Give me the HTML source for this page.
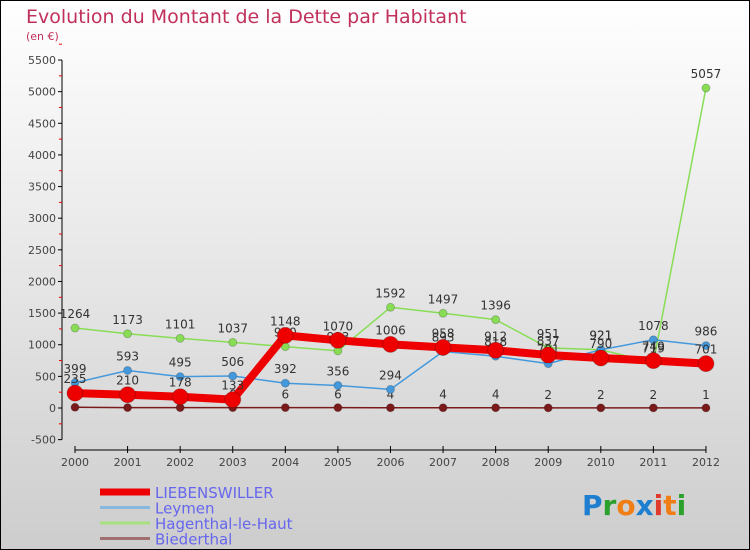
<!DOCTYPE html>
<html><head><meta charset="utf-8"><style>
body{margin:0}
#c{position:relative;width:750px;height:550px;overflow:hidden}
svg text{font-family:"DejaVu Sans","Liberation Sans",sans-serif}
</style></head><body>
<div id="c">
<svg id="s" width="750" height="550" xmlns="http://www.w3.org/2000/svg">
<defs><linearGradient id="bg" x1="0" y1="0" x2="0" y2="1"><stop offset="0" stop-color="#ffffff"/><stop offset="1" stop-color="#cdcdcd"/></linearGradient></defs>
<rect x="0.5" y="0.5" width="749" height="549" fill="url(#bg)" stroke="#000"/>
<text x="26" y="23" font-size="19" fill="#c0305a">Evolution du Montant de la Dette par Habitant</text>
<text x="26" y="40" font-size="11" fill="#c0305a">(en €)</text>
<g id="axes"></g>
<g id="series"></g>
<g id="legend"></g>
<text x="582" y="515" font-size="28" font-family="Liberation Sans,sans-serif" font-weight="bold"><tspan fill="#1e7fd0">P</tspan><tspan fill="#2ca02c">r</tspan><tspan fill="#f07e14">o</tspan><tspan fill="#1e7fd0">x</tspan><tspan fill="#e03a2c">i</tspan><tspan fill="#f07e14">t</tspan><tspan fill="#2ca02c">i</tspan></text>
</svg>
</div>
<script>
const years=["2000","2001","2002","2003","2004","2005","2006","2007","2008","2009","2010","2011","2012"];
const yTicks=[-500,0,500,1000,1500,2000,2500,3000,3500,4000,4500,5000,5500];
const liebenswiller=[235,210,178,133,1148,1070,1006,958,912,837,790,749,701];
const leymen=[399,593,495,506,392,356,294,893,818,701,921,1078,986];
const hagenthal=[1264,1173,1101,1037,970,903,1592,1497,1396,951,921,719,5057];
const biederthal=[11,6,6,6,6,6,4,4,4,2,2,2,1];
const seriesNames=["LIEBENSWILLER","Leymen","Hagenthal-le-Haut","Biederthal"];
const NS="http://www.w3.org/2000/svg";
const X=i=>75+i*52.58;
const Y=v=>408-v*0.06327;
function mk(tag,attrs,parent){const e=document.createElementNS(NS,tag);for(const k in attrs)e.setAttribute(k,attrs[k]);parent.appendChild(e);return e;}
const ax=document.getElementById('axes');
let l=mk('line',{x1:62,y1:Y(5500),x2:62,y2:Y(-500),stroke:'#000'},ax);


yTicks.forEach(v=>{
  mk('line',{x1:58,y1:Y(v),x2:62,y2:Y(v),stroke:'#000'},ax);
  mk('line',{x1:59,y1:Y(v+250),x2:62,y2:Y(v+250),stroke:'#e00'},ax);
  const t=mk('text',{x:56,y:Y(v)+4,'font-size':11,'text-anchor':'end',fill:'#444'},ax);
  t.textContent=v;
  
  
});
l=mk('line',{x1:X(0),y1:450,x2:X(12),y2:450,stroke:'#000'},ax);


years.forEach((y,i)=>{
  mk('line',{x1:X(i),y1:446,x2:X(i),y2:453,stroke:'#000'},ax);
  const t=mk('text',{x:X(i),y:466,'font-size':11,'text-anchor':'middle',fill:'#444'},ax);
  t.textContent=y;
  
  
});
const sg=document.getElementById('series');
function draw(vals,color,w,r,name,labelOffset){
  const g=mk('g',{},sg);
  
  
  mk('polyline',{points:vals.map((v,i)=>X(i)+','+Y(v)).join(' '),fill:'none',stroke:color,'stroke-width':w,'stroke-linejoin':'round'},g);
  vals.forEach((v,i)=>{
    const c=mk('circle',{cx:X(i),cy:Y(v),r:r,fill:color,stroke:'rgba(0,0,0,0.2)'},g);
    
    
    const t=mk('text',{x:X(i),y:Y(v)-labelOffset,'font-size':12,'text-anchor':'middle',fill:'#333'},g);
    t.textContent=v;
    
    
  });
}
draw(biederthal,'#7a1a1a',1.5,4,'biederthal-series',9);
draw(hagenthal,'#88dd55',1.5,4,'hagenthal-series',10);
draw(leymen,'#4499dd',1.5,4,'leymen-series',10);
draw(liebenswiller,'#ee0000',8,8,'liebenswiller-series',10);
const lg=document.getElementById('legend');
const lcol=['#ee0000','#88b8dd','#a8e080','#a07070'];
seriesNames.forEach((n,i)=>{
  const y=492+i*15.5;
  const g=mk('g',{},lg);
  
  
  mk('line',{x1:100,y1:y,x2:150,y2:y,stroke:lcol[i],'stroke-width':i==0?7:3},g);
  const t=mk('text',{x:155,y:y+6,'font-size':15,fill:'#6666ee'},g);
  t.textContent=n;
});
</script>
</body></html>
